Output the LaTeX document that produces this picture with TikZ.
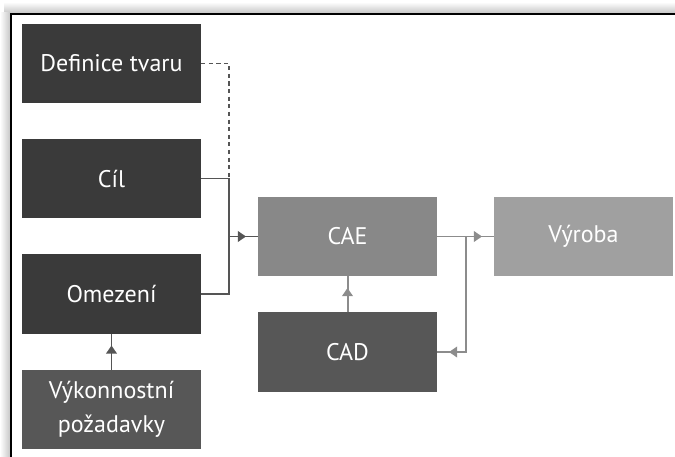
\documentclass[tikz,border=0pt]{standalone}
\usepackage{fontspec}
\setmainfont{PT Sans}
\usetikzlibrary{arrows.meta}
\definecolor{boxdark}{HTML}{3A3A3A}
\definecolor{boxmid}{HTML}{575757}
\definecolor{boxlight}{HTML}{888888}
\definecolor{boxpale}{HTML}{A0A0A0}
\definecolor{linedark}{HTML}{555555}
\definecolor{linelight}{HTML}{8C8C8C}
\tikzset{
	block/.style={minimum width=5.37cm, minimum height=2.37cm, inner sep=0pt,
		text=white, align=center, font=\fontsize{20.5}{29}\selectfont},
	link/.style={line width=1.7pt, draw=linedark},
	pointer/.style={link, postaction={draw, -{Triangle[length=7pt,width=9pt]}, shorten >=10pt}},
}

\begin{document}
\begin{tikzpicture}[x=0.03cm,y=-0.03cm]
		\useasboundingbox (0,0) rectangle (675,457);
		% frame with soft shadow
		\shade[top color=white, bottom color=black!22] (4,2) rectangle (675,13);
		\shade[left color=white, right color=black!22] (0,13) rectangle (10,457);
		\draw[line width=1.6pt] (11,457) -- (11,14) -- (675,14);
		% blocks
		\node[block, fill=boxdark] (shape) at (111.5,63.5) {Definice tvaru};
		\node[block, fill=boxdark] (goal) at (111.5,178.5) {Cíl};
		\node[block, fill=boxdark] (limit) at (111.5,294) {Omezení};
		\node[block, fill=boxmid] (perf) at (111.5,409.5) {Výkonnostní\\požadavky};
		\node[block, fill=boxlight] (cae) at (347.5,236.5) {CAE};
		\node[block, fill=boxmid] (cad) at (347.5,352) {CAD};
		\node[block, fill=boxpale] (prod) at (583.5,236.5) {Výroba};
		\coordinate (merge) at (229,236.5);
		\coordinate (split) at (466,236.5);
		% connectors
		\draw[link, line width=1.1pt, dash pattern=on 3.5pt off 3pt] (shape.east) -| (goal.east -| merge);
		\draw[link] (goal.east) -| (merge) |- (limit.east);
		\draw[pointer] (merge) -- (cae.west);
		\draw[pointer] (perf.north) -- (limit.south);
		\draw[pointer, draw=linelight, postaction={shorten >=15pt}] (cad.north) -- (cae.south);
		\draw[pointer, draw=linelight] (cae.east) -- (prod.west);
		\draw[pointer, draw=linelight] (split) |- (cad.east);
\end{tikzpicture}
\end{document}
